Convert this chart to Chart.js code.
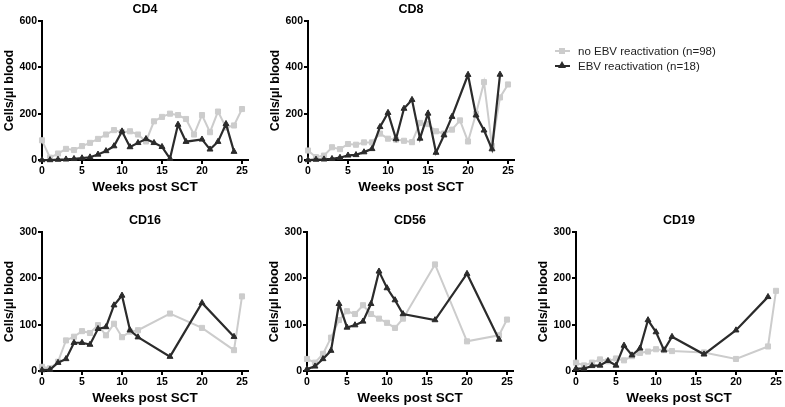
<!DOCTYPE html>
<html lang="en">
<head>
<meta charset="UTF-8">
<title>Lymphocyte recovery after SCT</title>
<script src="https://cdn.jsdelivr.net/npm/chart.js"></script>
<style>
    body {
        margin: 0;
        width: 785px;
        height: 407px;
        overflow: hidden;
        background: #fff;
        position: relative;
        font-family: "Liberation Sans", Arial, sans-serif;
    }
    canvas {
        position: absolute;
    }
    .legend {
        position: absolute;
        left: 555px;
        top: 43px;
        font-size: 11.5px;
        color: #222;
    }
    .legend-row {
        display: flex;
        align-items: center;
        height: 15.3px;
    }
    .swatch {
        position: relative;
        width: 15px;
        height: 10px;
        margin-right: 8px;
    }
    .swatch .line {
        position: absolute;
        left: 0;
        right: 0;
        top: 4px;
        height: 2px;
    }
    .swatch .sq {
        position: absolute;
        left: 4px;
        top: 2px;
        width: 6px;
        height: 6px;
        background: #cccccc;
    }
    .swatch .tri {
        position: absolute;
        left: 3px;
        top: 0;
        width: 0;
        height: 0;
        border-left: 4.5px solid transparent;
        border-right: 4.5px solid transparent;
        border-bottom: 7px solid #2b2b2b;
    }
</style>
</head>
<body>
    <canvas id="cd4" width="290" height="200" style="left:0px; top:0px"></canvas>
    <canvas id="cd8" width="290" height="200" style="left:266px; top:0px"></canvas>
    <canvas id="cd16" width="290" height="200" style="left:0px; top:211px"></canvas>
    <canvas id="cd56" width="290" height="200" style="left:265px; top:211px"></canvas>
    <canvas id="cd19" width="290" height="200" style="left:534px; top:211px"></canvas>

    <div class="legend">
        <div class="legend-row">
            <div class="swatch"><div class="line" style="background:#cccccc"></div><div class="sq"></div></div>
            <span id="leg0"></span>
        </div>
        <div class="legend-row">
            <div class="swatch"><div class="line" style="background:#2b2b2b"></div><div class="tri"></div></div>
            <span id="leg1"></span>
        </div>
    </div>

<script>
    // weeks post SCT
    const weeksTop = [0,1,2,3,4,5,6,7,8,9,10,11,12,13,14,15,16,17,18,19,20,21,22,23,24,25];
    const weeksBottom = [0,1,2,3,4,5,6,7,8,9,10,11,12,16,20,24,25];

    const seriesNames = ['no EBV reactivation (n=98)', 'EBV reactivation (n=18)'];
    const yTicksTop = [0, 200, 400, 600];
    const yTicksBottom = [0, 100, 200, 300];

    // cells/µl blood
    const cd4NoEbv = [85,10,28,48,43,60,74,91,110,129,120,124,110,80,167,186,200,194,177,110,194,120,209,140,149,220];
    const cd4Ebv   = [0,0,2,3,5,8,12,24,39,60,124,56,74,91,74,57,6,153,79,null,89,46,79,156,36,null];

    const cd8NoEbv = [41,12,19,55,47,69,66,76,76,114,92,88,83,77,160,155,124,114,131,171,80,200,336,60,270,326];
    const cd8Ebv   = [0,2,3,5,10,20,22,34,48,143,204,91,222,260,93,201,32,107,187,null,368,193,128,47,369,null];

    const cd16NoEbv = [9,6,20,66,74,86,82,99,77,102,73,85,88,124,93,45,161];
    const cd16Ebv   = [2,3,18,26,61,61,57,91,95,142,163,88,73,31,147,74,null];

    const cd56NoEbv = [26,18,37,72,110,129,123,142,123,113,104,93,113,230,64,77,111];
    const cd56Ebv   = [4,10,26,44,145,94,99,107,145,215,179,153,123,110,210,68,null];

    const cd19NoEbv = [18,12,18,25,21,27,23,32,39,42,47,45,43,40,26,53,173];
    const cd19Ebv   = [5,5,11,12,22,12,55,34,49,110,84,45,74,36,88,160,null];

    const GREY = '#cccccc';
    const DARK = '#2b2b2b';
    const FONT = '"Liberation Sans", Arial, sans-serif';

    document.getElementById('leg0').textContent = seriesNames[0];
    document.getElementById('leg1').textContent = seriesNames[1];

    function toPoints(weeks, values) {
        return weeks.map((w, i) => ({ x: w, y: values[i] })).filter(p => p.y !== null);
    }

    function makePanel(id, title, weeks, noEbv, ebv, yTicks) {
        new Chart(document.getElementById(id), {
            type: 'line',
            data: {
                datasets: [{
                    label: seriesNames[0],
                    data: toPoints(weeks, noEbv),
                    borderColor: GREY,
                    backgroundColor: GREY,
                    borderWidth: 2,
                    pointStyle: 'rect',
                    pointRadius: 3.6,
                    pointBorderWidth: 1,
                    order: 1,
                    clip: false
                }, {
                    label: seriesNames[1],
                    data: toPoints(weeks, ebv),
                    borderColor: DARK,
                    backgroundColor: DARK,
                    borderWidth: 2.2,
                    pointStyle: 'triangle',
                    pointRadius: 3.4,
                    pointBorderWidth: 1,
                    order: 0,
                    clip: false
                }]
            },
            options: {
                responsive: false,
                animation: false,
                events: [],
                layout: { padding: 0 },
                plugins: {
                    legend: { display: false },
                    tooltip: { enabled: false },
                    title: {
                        display: true,
                        text: title,
                        color: '#000',
                        font: { family: FONT, size: 12.5, weight: 'bold' },
                        padding: { top: 2, bottom: 4 }
                    }
                },
                scales: {
                    x: {
                        type: 'linear',
                        min: 0,
                        max: 25.75,
                        border: { color: '#000', width: 2 },
                        grid: { drawOnChartArea: false, color: '#000', lineWidth: 2, tickLength: 4 },
                        ticks: {
                            stepSize: 5,
                            includeBounds: false,
                            maxRotation: 0,
                            autoSkip: false,
                            padding: 1,
                            color: '#000',
                            font: { family: FONT, size: 10.5, weight: 'bold' }
                        },
                        title: {
                            display: true,
                            text: 'Weeks post SCT',
                            color: '#000',
                            font: { family: FONT, size: 13.5, weight: 'bold' },
                            padding: { top: 0, bottom: 5 }
                        },
                        afterFit: s => { s.height = 40; }
                    },
                    y: {
                        min: 0,
                        max: yTicks[yTicks.length - 1],
                        border: { color: '#000', width: 2 },
                        grid: { drawOnChartArea: false, color: '#000', lineWidth: 2, tickLength: 4 },
                        ticks: {
                            stepSize: yTicks[1] - yTicks[0],
                            padding: 1,
                            color: '#000',
                            font: { family: FONT, size: 10.5, weight: 'bold' }
                        },
                        title: {
                            display: true,
                            text: 'Cells/µl blood',
                            color: '#000',
                            font: { family: FONT, size: 12.5, weight: 'bold' },
                            padding: { top: 2, bottom: 0 }
                        },
                        afterFit: s => { s.width = 42; }
                    },
                    // empty right-hand spacer so the panel title centres over the plot
                    spacer: {
                        type: 'linear',
                        position: 'right',
                        grid: { display: false },
                        border: { display: false },
                        ticks: { display: false },
                        afterFit: s => { s.width = 42; }
                    }
                }
            }
        });
    }

    makePanel('cd4', 'CD4', weeksTop, cd4NoEbv, cd4Ebv, yTicksTop);
    makePanel('cd8', 'CD8', weeksTop, cd8NoEbv, cd8Ebv, yTicksTop);
    makePanel('cd16', 'CD16', weeksBottom, cd16NoEbv, cd16Ebv, yTicksBottom);
    makePanel('cd56', 'CD56', weeksBottom, cd56NoEbv, cd56Ebv, yTicksBottom);
    makePanel('cd19', 'CD19', weeksBottom, cd19NoEbv, cd19Ebv, yTicksBottom);
</script>
</body>
</html>
